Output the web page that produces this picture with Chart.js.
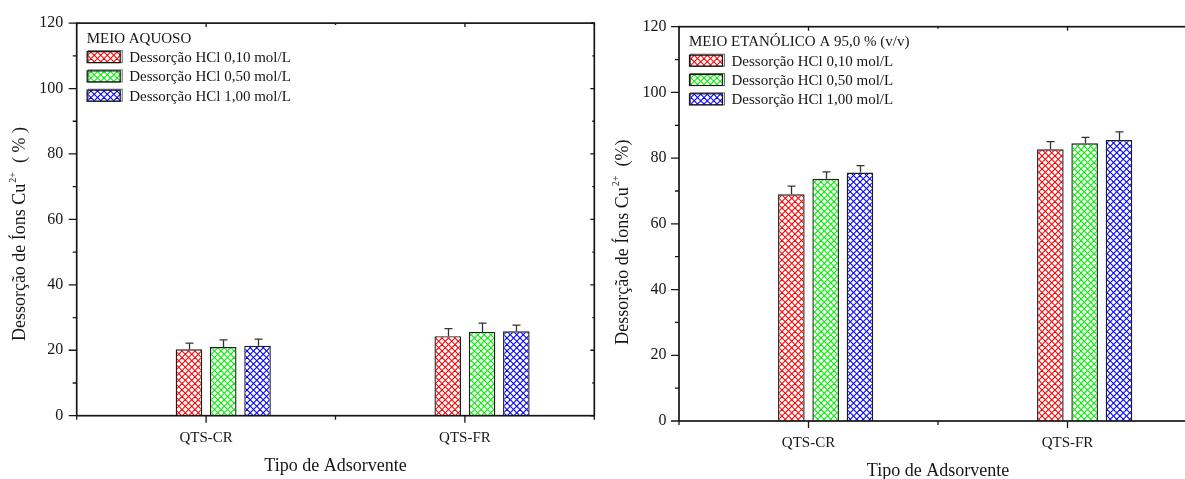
<!DOCTYPE html>
<html>
<head>
<meta charset="utf-8">
<title>Dessorção de íons Cu2+</title>
<script src="https://cdn.jsdelivr.net/npm/chart.js@4.4.1/dist/chart.umd.min.js"></script>
<style>
  html, body { margin: 0; padding: 0; background: #fff; overflow: hidden; width: 1185px; height: 479px; }
  canvas { position: absolute; top: 0; }
  #aquoso { left: 0; }
  #etanolico { left: 600px; }
</style>
</head>
<body>
<canvas id="aquoso" width="600" height="479"></canvas>
<canvas id="etanolico" width="620" height="479"></canvas>
<script>
// ---- data ----
const categories = ['QTS-CR', 'QTS-FR'];
const seriesLabels = ['Dessorção HCl 0,10 mol/L', 'Dessorção HCl 0,50 mol/L', 'Dessorção HCl 1,00 mol/L'];
const seriesColors = ['#ff0000', '#00f000', '#0000ff'];
const yTickValues = [0, 20, 40, 60, 80, 100, 120];

// aqueous medium (%)
const aquosoHCl010 = [20.3, 24.3];
const aquosoHCl050 = [21.0, 25.6];
const aquosoHCl100 = [21.4, 25.8];
const aquosoErr010 = [1.9, 2.3];
const aquosoErr050 = [2.2, 2.7];
const aquosoErr100 = [2.0, 1.9];

// 95 % ethanolic medium (%)
const etanolHCl010 = [69.0, 82.7];
const etanolHCl050 = [73.7, 84.5];
const etanolHCl100 = [75.6, 85.5];
const etanolErr010 = [2.5, 2.3];
const etanolErr050 = [2.1, 1.8];
const etanolErr100 = [2.1, 2.5];

const SERIF = "'Liberation Serif', 'Times New Roman', serif";
const INK = '#161616';

// cross-hatch fill used by bars and legend swatches
function hatch(color) {
  const s = 13;
  const c = document.createElement('canvas');
  c.width = s; c.height = s;
  const g = c.getContext('2d');
  g.fillStyle = '#fff';
  g.fillRect(0, 0, s, s);
  g.strokeStyle = color;
  g.lineWidth = 1.1;
  for (let k = -2; k <= 2; k++) {
    const o = k * 6.5;
    g.beginPath(); g.moveTo(o - 1, -1); g.lineTo(o + s + 1, s + 1); g.stroke();
    g.beginPath(); g.moveTo(o - 1, s + 1); g.lineTo(o + s + 1, -1); g.stroke();
  }
  return g.createPattern(c, 'repeat');
}
const patterns = seriesColors.map(hatch);

// upward error bars on every real series
const errorBars = {
  id: 'errorBars',
  afterDatasetsDraw(chart) {
    const ctx = chart.ctx;
    const y = chart.scales.y;
    ctx.save();
    ctx.strokeStyle = '#333';
    ctx.lineWidth = 1.3;
    chart.data.datasets.forEach((ds, i) => {
      if (!ds.errors) return;
      const meta = chart.getDatasetMeta(i);
      meta.data.forEach((bar, j) => {
        const v = ds.data[j];
        if (v == null) return;
        const top = y.getPixelForValue(v + ds.errors[j]);
        const x = Math.round(bar.x) + 0.5;
        ctx.beginPath();
        ctx.moveTo(x, bar.y);
        ctx.lineTo(x, top);
        ctx.moveTo(x - 4, top);
        ctx.lineTo(x + 4, top);
        ctx.stroke();
      });
    });
    ctx.restore();
  }
};

// closed frame with major/minor tick marks on all four sides
const frame = {
  id: 'frame',
  afterDraw(chart) {
    const ctx = chart.ctx;
    const { left, right, top, bottom } = chart.chartArea;
    const xs = chart.scales.x, ys = chart.scales.y;
    ctx.save();
    ctx.strokeStyle = INK;
    ctx.lineWidth = 1.7;
    ctx.strokeRect(left, top, right - left, bottom - top);
    ctx.lineWidth = 1.3;
    ctx.beginPath();
    for (let v = 0; v <= 120; v += 10) {
      const py = ys.getPixelForValue(v);
      const major = v % 20 === 0;
      ctx.moveTo(left, py); ctx.lineTo(left - (major ? 8 : 4), py);
      ctx.moveTo(right, py); ctx.lineTo(right - (major ? 4 : 2), py);
    }
    for (let k = -0.5; k <= categories.length - 0.5; k += 0.5) {
      const px = xs.getPixelForValue(k);
      const major = Number.isInteger(k);
      ctx.moveTo(px, bottom); ctx.lineTo(px, bottom + (major ? 7 : 4));
      ctx.moveTo(px, top); ctx.lineTo(px, top + (major ? 4 : 2));
    }
    ctx.stroke();
    ctx.restore();
  }
};

// rotated y title with superscript charge
const yTitle = {
  id: 'yTitle',
  afterDraw(chart, args, opts) {
    const ctx = chart.ctx;
    const { top } = chart.chartArea;
    ctx.save();
    ctx.translate(opts.x, top + opts.startOffset);
    ctx.rotate(-Math.PI / 2);
    ctx.fillStyle = INK;
    ctx.textBaseline = 'middle';
    ctx.textAlign = 'left';
    ctx.font = '18px ' + SERIF;
    const main = 'Dessorção de Íons Cu';
    ctx.fillText(main, 0, 0);
    let x = ctx.measureText(main).width + 1;
    ctx.font = '10px ' + SERIF;
    ctx.fillText('2+', x, -7);
    x += ctx.measureText('2+').width;
    ctx.font = '18px ' + SERIF;
    ctx.fillText(opts.unit, x + 9, 0);
    ctx.restore();
  }
};

// legend block in the upper-left corner of the plot
const cornerLegend = {
  id: 'cornerLegend',
  afterDraw(chart, args, opts) {
    const ctx = chart.ctx;
    const { left, top } = chart.chartArea;
    ctx.save();
    ctx.fillStyle = INK;
    ctx.textBaseline = 'middle';
    ctx.textAlign = 'left';
    ctx.font = '15px ' + SERIF;
    ctx.fillText(opts.title, left + 10, top + 15.5);
    seriesLabels.forEach((label, i) => {
      const cy = top + 34 + i * 19.3;
      const bx = left + 10, by = cy - 6;
      ctx.fillStyle = patterns[i];
      ctx.fillRect(bx, by, 34, 12);
      ctx.strokeStyle = '#6a6a6a';
      ctx.lineWidth = 1;
      ctx.strokeRect(bx + 1.5, by - 0.5, 34, 12);
      ctx.strokeStyle = INK;
      ctx.lineWidth = 1.2;
      ctx.strokeRect(bx + 0.5, by + 0.5, 33, 11);
      ctx.fillStyle = INK;
      ctx.fillText(label, left + 52.5, cy + 1);
    });
    ctx.restore();
  }
};

function makeChart(id, values, errors, cfg) {
  const datasets = [
    // empty leading slot: keeps each group to the right of its category tick
    { label: '', data: categories.map(() => null), backgroundColor: 'rgba(0,0,0,0)', borderWidth: 0 }
  ];
  values.forEach((vals, i) => {
    datasets.push({
      label: seriesLabels[i],
      data: vals,
      errors: errors[i],
      backgroundColor: patterns[i],
      borderColor: '#1e1e1e',
      borderWidth: 1.4
    });
  });
  return new Chart(document.getElementById(id), {
    type: 'bar',
    data: { labels: categories, datasets },
    options: {
      responsive: false,
      animation: false,
      devicePixelRatio: 1,
      datasets: { bar: { categoryPercentage: 0.53, barPercentage: 0.775 } },
      layout: { padding: { top: cfg.top, right: cfg.right, left: 0, bottom: 0 } },
      plugins: {
        legend: { display: false },
        tooltip: { enabled: false },
        yTitle: { x: cfg.titleX, startOffset: cfg.titleStart, unit: cfg.unit },
        cornerLegend: { title: cfg.legendTitle }
      },
      scales: {
        x: {
          type: 'category',
          offset: true,
          grid: { display: false, drawTicks: false },
          border: { display: false },
          ticks: { font: { family: SERIF, size: 15 }, color: INK, padding: 13, maxRotation: 0 },
          title: {
            display: true,
            text: 'Tipo de Adsorvente',
            color: INK,
            font: { family: SERIF, size: 18, lineHeight: cfg.xTitleLH },
            padding: 0
          },
          afterFit(s) { s.height = cfg.xHeight; }
        },
        y: {
          min: 0,
          max: 120,
          afterBuildTicks(s) { s.ticks = yTickValues.map(v => ({ value: v })); },
          grid: { display: false, drawTicks: false },
          border: { display: false },
          ticks: { font: { family: SERIF, size: 16 }, color: INK, padding: cfg.yPad },
          afterFit(s) { s.width = cfg.yWidth; }
        }
      }
    },
    plugins: [errorBars, frame, yTitle, cornerLegend]
  });
}

makeChart('aquoso',
  [aquosoHCl010, aquosoHCl050, aquosoHCl100],
  [aquosoErr010, aquosoErr050, aquosoErr100],
  { top: 22, right: 5.7, yWidth: 76.7, xHeight: 63.3, yPad: 13.5, xTitleLH: 1.45,
    titleX: 20, titleStart: 318, unit: '( % )', legendTitle: 'MEIO AQUOSO' });

makeChart('etanolico',
  [etanolHCl010, etanolHCl050, etanolHCl100],
  [etanolErr010, etanolErr050, etanolErr100],
  { top: 26.7, right: 23, yWidth: 79, xHeight: 58, yPad: 12.5, xTitleLH: 0.9,
    titleX: 23.5, titleStart: 318, unit: '(%)', legendTitle: 'MEIO ETANÓLICO A 95,0 % (v/v)' });
</script>
</body>
</html>
